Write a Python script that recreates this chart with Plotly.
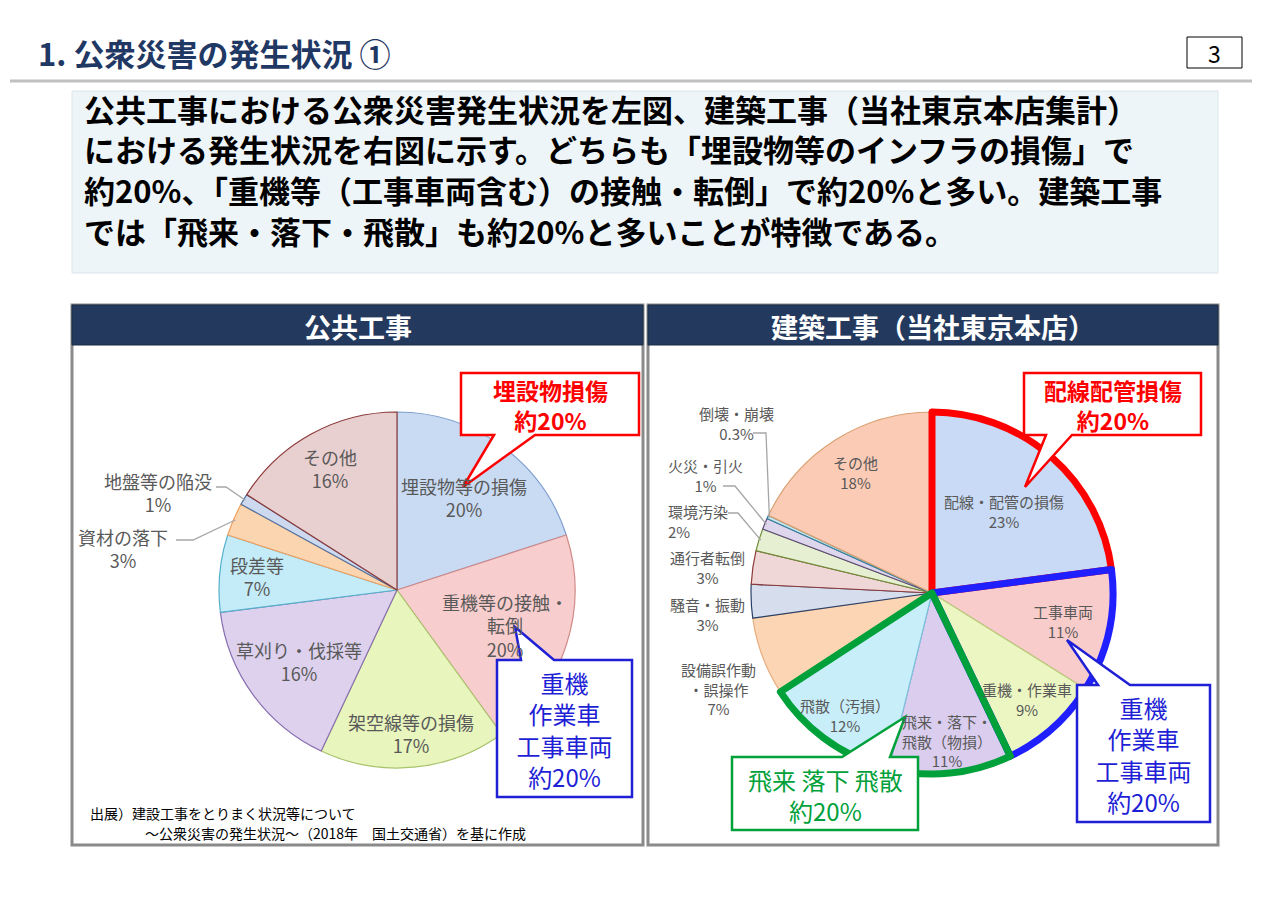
import math
import plotly.graph_objects as go

W, H = 1280, 904
OX, OY = 8, 8          # page body margin of the browser
FONT = "Noto Sans CJK JP"

# ---------------- data ----------------
public_labels = ["埋設物等の損傷", "重機等の接触・<br>転倒", "架空線等の損傷", "草刈り・伐採等",
                 "段差等", "資材の落下", "地盤等の陥没", "その他"]
public_values = [20, 20, 17, 16, 7, 3, 1, 16]

build_labels = ["配線・配管の損傷", "工事車両", "重機・作業車", "飛来・落下・<br>飛散（物損）",
                "飛散（汚損）", "設備誤作動<br>・誤操作", "騒音・振動", "通行者転倒",
                "環境汚染", "火災・引火", "倒壊・崩壊", "その他"]
build_values = [23, 11, 9, 11, 12, 7, 3, 3, 2, 1, 0.3, 18]

# highlighted groups (indices into build arrays)
build_groups = [[0], [1, 2], [3, 4], [5, 6, 7, 8, 9, 10, 11]]

title_text = "1. 公衆災害の発生状況 ①"
page_no = "3"
body_lines = [
    "公共工事における公衆災害発生状況を左図、建築工事（当社東京本店集計）",
    "における発生状況を右図に示す。どちらも「埋設物等のインフラの損傷」で",
    "約20%、「重機等（工事車両含む）の接触・転倒」で約20%と多い。建築工事",
    "では「飛来・落下・飛散」も約20%と多いことが特徴である。",
]
panel_titles = ["公共工事", "建築工事（当社東京本店）"]
source_lines = ["出展）建設工事をとりまく状況等について",
                "～公衆災害の発生状況～（2018年　国土交通省）を基に作成"]
callout_texts = {
    "left_red": "埋設物損傷<br>約20%",
    "left_blue": "重機<br>作業車<br>工事車両<br>約20%",
    "right_red": "配線配管損傷<br>約20%",
    "right_blue": "重機<br>作業車<br>工事車両<br>約20%",
    "right_green": "飛来 落下 飛散<br>約20%",
}

# ---------------- styles ----------------
L_CX, L_CY, L_R = 397, 590, 178
R_CX, R_CY, R_R = 932, 593, 181

public_fill = ["#c9dbf3", "#f8cdcd", "#e8f5bd", "#ddd1ee", "#c4ecf8", "#fbd4b0", "#cdd9ee", "#e9d0d0"]
public_edge = ["#7f9fcf", "#d08a88", "#a9c46c", "#8a6fb0", "#56b0cc", "#f0a060", "#4f6f9f", "#8c3a3a"]
# label placement: radial fraction for inside labels, or (x, y, align) for outside labels
public_place = [0.64, 0.64, 0.81, 0.68, 0.79, (123, 548, "center"), (158, 492, "center"), 0.78]
public_leader = [None, None, None, None, None, [(176, 540), (193, 540)], [(216, 487), (226, 487)], None]

build_fill = ["#c8daf5", "#f9cccc", "#ebf6c2", "#dacdee", "#c8eefa", "#fcd6b4", "#d6deed",
              "#f0d7d7", "#e6efd2", "#ddd6ec", "#c9e6f0", "#fbcbb6"]
build_edge = ["#8fa9d6", "#d89a98", "#b9cc7a", "#9b86c0", "#7cc4dc", "#e7ad80", "#2a3f66",
              "#8c3a3a", "#6f8f3a", "#5f497a", "#31859c", "#d9a070"]
build_place = [0.6, 0.74, 0.79, 0.82, 0.83, (718, 689, "center"), (707, 614, "center"),
               (707, 567, "center"), (666, 521, "left"), (705, 475, "center"), (736, 423, "center"), 0.79]
build_leader = [None, None, None, None, None, None, None, None,
                [(728, 513), (738, 513)], [(723, 486), (735, 486)], [(753, 433), (766, 433)], None]
group_line_col = ["#ff0000", "#1f1fff", "#00a13a", "rgba(0,0,0,0)"]
group_line_w = [7, 7, 7, 0]


def dom(cx, cy, r):
    return dict(x=[(cx - r - OX) / W, (cx + r - OX) / W],
                y=[1 - (cy + r - OY) / H, 1 - (cy - r - OY) / H])


fig = go.Figure()

fig.add_trace(go.Pie(
    labels=public_labels, values=public_values, sort=False, direction="clockwise", rotation=0,
    textinfo="none", marker=dict(colors=public_fill, line=dict(color=public_edge, width=1.2)),
    domain=dom(L_CX, L_CY, L_R), showlegend=False, hoverinfo="label+percent",
))
fig.add_trace(go.Pie(
    labels=build_labels, values=build_values, sort=False, direction="clockwise", rotation=0,
    textinfo="none", marker=dict(colors=build_fill, line=dict(color=build_edge, width=1.2)),
    domain=dom(R_CX, R_CY, R_R), showlegend=False, hoverinfo="label+percent",
))
group_vals = [sum(build_values[i] for i in g) for g in build_groups]
fig.add_trace(go.Pie(
    labels=["g1", "g2", "g3", "g4"], values=group_vals, sort=False, direction="clockwise", rotation=0,
    textinfo="none", hoverinfo="skip",
    marker=dict(colors=["rgba(0,0,0,0)"] * 4, line=dict(color=group_line_col, width=group_line_w)),
    domain=dom(R_CX, R_CY, R_R), showlegend=False,
))

shapes = []
ann = []


def pie_labels(labels, values, place, leaders, cx, cy, r, size):
    total = sum(values)
    cum = 0.0
    for lab, v, p, ld in zip(labels, values, place, leaders):
        mid = math.radians((cum + v / 2) / total * 360)
        cum += v
        txt = f"{lab}<br>{v:g}%"
        if isinstance(p, tuple):
            x, y, al = p
            xa = "left" if al == "left" else "center"
        else:
            x = cx + p * r * math.sin(mid)
            y = cy - p * r * math.cos(mid)
            al, xa = "center", "center"
        ann.append(dict(x=x, y=y, xref="x", yref="y", showarrow=False, text=txt, align=al,
                        xanchor=xa, yanchor="middle",
                        font=dict(family=FONT, size=size, color="#595959")))
        if ld:
            ex = cx + 0.99 * r * math.sin(mid)
            ey = cy - 0.99 * r * math.cos(mid)
            pts = ld + [(ex, ey)]
            path = "M" + " L".join(f"{a:.1f},{b:.1f}" for a, b in pts)
            shapes.append(dict(type="path", path=path, xref="x", yref="y",
                               line=dict(color="#a6a6a6", width=1.3), layer="above"))


# title and page number
ann.append(dict(x=36, y=52, xref="x", yref="y", xanchor="left", yanchor="middle", showarrow=False,
                text=f"<b>{title_text}</b>", font=dict(family=FONT, size=31, color="#1f3864")))
shapes.append(dict(type="rect", x0=1187, y0=37, x1=1242, y1=68, xref="x", yref="y",
                   line=dict(color="#000000", width=1), fillcolor="white", layer="below"))
ann.append(dict(x=1214.5, y=53, xref="x", yref="y", showarrow=False, text=page_no,
                font=dict(family=FONT, size=23, color="#000000")))
shapes.append(dict(type="line", x0=10, y0=81, x1=1252, y1=81, xref="x", yref="y",
                   line=dict(color="#c0c0c0", width=3), layer="below"))

# body text box
shapes.append(dict(type="rect", x0=72, y0=91, x1=1218, y1=273, xref="x", yref="y",
                   line=dict(color="#dbe6ea", width=1), fillcolor="#eef5f8", layer="below"))
for i, line in enumerate(body_lines):
    ann.append(dict(x=82, y=108 + i * 40.7, xref="x", yref="y", xanchor="left", yanchor="middle",
                    showarrow=False, text=f"<b>{line}</b>",
                    font=dict(family=FONT, size=31, color="#000000")))

# panels
for (x0, x1), t in zip([(72, 643), (648, 1218)], panel_titles):
    shapes.append(dict(type="rect", x0=x0, y0=305, x1=x1, y1=845, xref="x", yref="y",
                       line=dict(color="#8a8a8a", width=3), fillcolor="white", layer="below"))
    shapes.append(dict(type="rect", x0=x0, y0=305, x1=x1, y1=345, xref="x", yref="y",
                       line=dict(color="#1a2a45", width=1), fillcolor="#233a5e", layer="below"))
    ann.append(dict(x=(x0 + x1) / 2, y=326, xref="x", yref="y", showarrow=False,
                    text=f"<b>{t}</b>", font=dict(family=FONT, size=27, color="white")))

# source
ann.append(dict(x=88, y=813, xref="x", yref="y", xanchor="left", showarrow=False, text=source_lines[0],
                font=dict(family=FONT, size=14, color="#000000")))
ann.append(dict(x=143, y=833, xref="x", yref="y", xanchor="left", showarrow=False, text=source_lines[1],
                font=dict(family=FONT, size=14, color="#000000")))

# pie labels
pie_labels(public_labels, public_values, public_place, public_leader, L_CX, L_CY, L_R, 18)
pie_labels(build_labels, build_values, build_place, build_leader, R_CX, R_CY, R_R, 15)


def callout(path, box, color, text, size, bold, cover):
    shapes.append(dict(type="path", path=path, xref="x", yref="y", fillcolor="white",
                       line=dict(color=color, width=2.5), layer="above"))
    bx0, by0, bx1, by1 = box
    a = dict(x=(bx0 + bx1) / 2, y=(by0 + by1) / 2 + 1, xref="x", yref="y", showarrow=False,
             text=f"<b>{text}</b>" if bold else text, align="center",
             font=dict(family=FONT, size=size, color=color))
    if cover:
        # white box so the callout hides the pie labels beneath it
        a.update(width=bx1 - bx0 - 6, height=by1 - by0 - 6, bgcolor="white",
                 borderpad=0, borderwidth=0, valign="middle")
    ann.append(a)


callout("M461,373 L639,373 L639,435 L535,435 L463,487 L494,435 L461,435 Z", (461, 373, 639, 435),
        "#ff0000", callout_texts["left_red"], 23, True, False)
callout("M497,660 L521,660 L515,627 L554,660 L632,660 L632,797 L497,797 Z", (497, 660, 632, 797),
        "#1f1fd6", callout_texts["left_blue"], 24, False, True)
callout("M1024,373 L1201,373 L1201,435 L1072,435 L1025,487 L1046,435 L1024,435 Z", (1024, 373, 1201, 435),
        "#ff0000", callout_texts["right_red"], 23, True, False)
callout("M1077,685 L1098,685 L1067,640 L1130,685 L1210,685 L1210,822 L1077,822 Z", (1077, 685, 1210, 822),
        "#1f1fd6", callout_texts["right_blue"], 24, False, True)
callout("M732,757 L842,757 L905,717 L890,757 L918,757 L918,830 L732,830 Z", (732, 757, 918, 830),
        "#00a13a", callout_texts["right_green"], 24, False, False)

fig.update_layout(
    width=W, height=H, margin=dict(l=0, r=0, t=0, b=0),
    paper_bgcolor="white", plot_bgcolor="white",
    xaxis=dict(range=[OX, W + OX], visible=False, fixedrange=True),
    yaxis=dict(range=[H + OY, OY], visible=False, fixedrange=True),
    shapes=shapes, annotations=ann, showlegend=False,
)

fig.write_html("out.html")
